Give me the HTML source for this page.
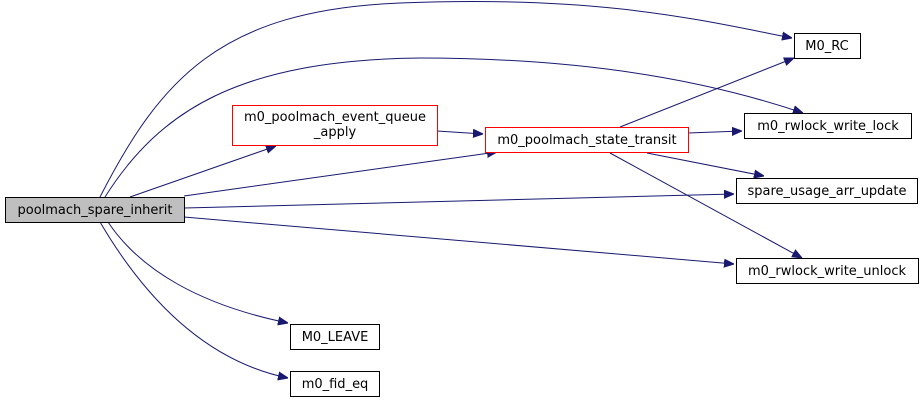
<!DOCTYPE html>
<html><head><style>body{margin:0;background:#fff}svg{display:block}</style></head><body>
<svg width="924" height="406" xmlns="http://www.w3.org/2000/svg" font-family="'DejaVu Sans','Liberation Sans',sans-serif" font-size="13">
<defs><marker id="a" viewBox="0 0 10 10" refX="10" refY="5" markerWidth="10" markerHeight="10" markerUnits="userSpaceOnUse" orient="auto"><path d="M0,1 L10,5 L0,9 z" fill="#191970" stroke="#191970"/></marker></defs>
<g fill="none" stroke="#191970" stroke-width="1">
<path d="M100,197 C160,80 220,10 400,3 C600,-5 700,20 792,38" marker-end="url(#a)"/>
<path d="M105,197 C160,110 240,60 420,58 C600,58 720,85 803,113" marker-end="url(#a)"/>
<path d="M130,197 L276,146" marker-end="url(#a)"/>
<path d="M184,196 L497,152" marker-end="url(#a)"/>
<path d="M437,131 L483,134" marker-end="url(#a)"/>
<path d="M184,208 L734,194" marker-end="url(#a)"/>
<path d="M184,217 L734,264" marker-end="url(#a)"/>
<path d="M620,127 L794,58" marker-end="url(#a)"/>
<path d="M688,133 L742,131" marker-end="url(#a)"/>
<path d="M647,153 L764,176" marker-end="url(#a)"/>
<path d="M610,153 L802,258" marker-end="url(#a)"/>
<path d="M108,222 C140,270 200,305 288,323" marker-end="url(#a)"/>
<path d="M100,222 C140,290 200,360 288,378" marker-end="url(#a)"/>
</g>
<g stroke-width="1">
<rect x="5.5" y="197.5" width="179" height="25" fill="#bfbfbf" stroke="#000"/>
<rect x="232.5" y="105.5" width="205" height="40" fill="#fff" stroke="#ff0000"/>
<rect x="485.5" y="127.5" width="203" height="25" fill="#fff" stroke="#ff0000"/>
<rect x="794.5" y="33.5" width="66" height="25" fill="#fff" stroke="#000"/>
<rect x="744.5" y="113.5" width="167" height="25" fill="#fff" stroke="#000"/>
<rect x="736.5" y="178.5" width="181" height="25" fill="#fff" stroke="#000"/>
<rect x="736.5" y="258.5" width="182" height="25" fill="#fff" stroke="#000"/>
<rect x="290.5" y="324.5" width="89" height="25" fill="#fff" stroke="#000"/>
<rect x="290.5" y="371.5" width="89" height="25" fill="#fff" stroke="#000"/>
</g>
<g fill="#000" text-anchor="middle">
<text x="95" y="214">poolmach_spare_inherit</text>
<text x="335" y="121">m0_poolmach_event_queue</text>
<text x="335" y="136">_apply</text>
<text x="587" y="144">m0_poolmach_state_transit</text>
<text x="827" y="50">M0_RC</text>
<text x="828" y="130">m0_rwlock_write_lock</text>
<text x="827" y="195">spare_usage_arr_update</text>
<text x="827" y="275">m0_rwlock_write_unlock</text>
<text x="335" y="341">M0_LEAVE</text>
<text x="335" y="388">m0_fid_eq</text>
</g>
</svg>
</body></html>
